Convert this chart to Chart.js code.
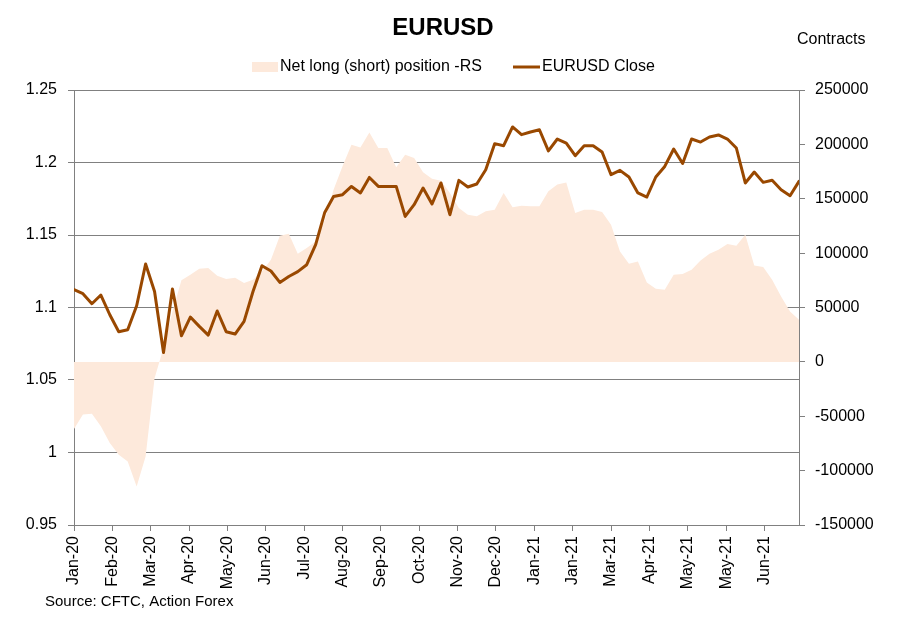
<!DOCTYPE html>
<html>
<head>
<meta charset="utf-8">
<script src="https://cdn.jsdelivr.net/npm/chart.js@4.4.1/dist/chart.umd.min.js"></script>
<style>
  html, body { margin: 0; padding: 0; background: #ffffff; }
  #wrap { width: 901px; height: 619px; }
</style>
</head>
<body>
<div id="wrap"><canvas id="cotChart" width="901" height="619"></canvas></div>
<script>
// weekly CFTC reports, first one on 7 Jan 2020
var daysPerWeek = 7;
var tickStepDays = 30;

var tickLabels = ['Jan-20', 'Feb-20', 'Mar-20', 'Apr-20', 'May-20', 'Jun-20', 'Jul-20', 'Aug-20',
    'Sep-20', 'Oct-20', 'Nov-20', 'Dec-20', 'Jan-21', 'Jan-21', 'Mar-21', 'Apr-21', 'May-21',
    'May-21', 'Jun-21'];

// EURUSD close, left scale
var closeValues = [
    1.1123, 1.1095, 1.1026, 1.1086, 1.0950, 1.0833, 1.0847, 1.1012, 1.1300, 1.1110,
    1.0690, 1.1128, 1.0805, 1.0934, 1.0870, 1.0810, 1.0976, 1.0833, 1.0817, 1.0904,
    1.1110, 1.1288, 1.1252, 1.1173, 1.1214, 1.1247, 1.1295, 1.1433, 1.1653, 1.1766,
    1.1778, 1.1835, 1.1790, 1.1897, 1.1835, 1.1835, 1.1835, 1.1628, 1.1709, 1.1824,
    1.1714, 1.1859, 1.1640, 1.1877, 1.1831, 1.1852, 1.1950, 1.2130, 1.2116, 1.2245,
    1.2192, 1.2210, 1.2226, 1.2080, 1.2162, 1.2134, 1.2047, 1.2116, 1.2116, 1.2072,
    1.1916, 1.1946, 1.1900, 1.1790, 1.1762, 1.1900, 1.1973, 1.2093, 1.1993, 1.2162,
    1.2141, 1.2176, 1.2190, 1.2162, 1.2100, 1.1859, 1.1934, 1.1863, 1.1877, 1.1812,
    1.1771, 1.1870
];

// net long (short) position in contracts, right scale
var netPosition = [
    -61700, -48500, -47600, -59300, -74600, -85300, -91500, -114500, -86900, -15000,
    13000, 46000, 75000, 80200, 85700, 86300, 79300, 76200, 77400, 72500,
    75600, 83200, 94000, 116000, 117900, 99500, 104700, 110800, 130000, 158300,
    179800, 199700, 197200, 211000, 196600, 196600, 178900, 190500, 187500, 174300,
    168400, 166600, 155300, 141500, 135300, 133800, 138400, 140000, 155300, 142100,
    143600, 143000, 143000, 156800, 163000, 165000, 136900, 140000, 140000, 137800,
    126200, 101600, 90300, 92400, 73100, 67300, 66400, 80200, 80800, 84800,
    93300, 99500, 103200, 108400, 106800, 117000, 88700, 87300, 75600, 60200,
    46400, 38800
];

var areaColor = '#FDE9DB';
var lineColor = '#994800';
var axisColor = '#808080';
var fontFamily = "'Liberation Sans', Arial, sans-serif";

function toPoints(values) {
    return values.map(function (v, i) {
        return { x: i * daysPerWeek, y: v };
    });
}

// title, legend, axis caption and source line
var decorations = {
    id: 'decorations',
    afterDraw: function (chart) {
        var c = chart.ctx;
        var sets = chart.data.datasets;
        c.save();
        c.fillStyle = '#000000';
        c.textBaseline = 'middle';

        c.font = 'bold 24px ' + fontFamily;
        c.textAlign = 'center';
        c.fillText('EURUSD', 443, 28);

        c.textAlign = 'left';
        c.font = '16px ' + fontFamily;
        c.fillText('Contracts', 797, 40);

        // legend
        c.fillStyle = sets[0].backgroundColor;
        c.fillRect(252, 62, 26, 10);
        c.fillStyle = '#000000';
        c.fillText(sets[0].label, 280, 67);

        c.strokeStyle = sets[1].borderColor;
        c.lineWidth = 3;
        c.beginPath();
        c.moveTo(513, 67);
        c.lineTo(540, 67);
        c.stroke();
        c.fillText(sets[1].label, 542, 67);

        c.font = '15px ' + fontFamily;
        c.fillText('Source: CFTC, Action Forex', 45, 602);
        c.restore();
    }
};

const ctx = document.getElementById('cotChart').getContext('2d');

new Chart(ctx, {
    type: 'line',
    data: {
        datasets: [{
            label: 'Net long (short) position -RS',
            data: toPoints(netPosition),
            yAxisID: 'y1',
            backgroundColor: areaColor,
            borderWidth: 0,
            pointRadius: 0,
            fill: 'origin',
            tension: 0,
            order: 2
        }, {
            label: 'EURUSD Close',
            data: toPoints(closeValues),
            yAxisID: 'y',
            borderColor: lineColor,
            borderWidth: 3,
            borderJoinStyle: 'round',
            borderCapStyle: 'round',
            pointRadius: 0,
            fill: false,
            tension: 0,
            order: 1
        }]
    },
    options: {
        responsive: false,
        animation: false,
        layout: { padding: { top: 90, left: 0, right: 0, bottom: 0 } },
        plugins: {
            legend: { display: false },
            title: { display: false },
            tooltip: { enabled: false }
        },
        scales: {
            x: {
                type: 'linear',
                min: 0,
                max: (closeValues.length - 1) * daysPerWeek,
                afterBuildTicks: function (s) {
                    s.ticks = tickLabels.map(function (_, k) { return { value: k * tickStepDays }; });
                },
                afterFit: function (s) { s.height = 94; },
                grid: { display: true, drawOnChartArea: false, drawTicks: true, tickLength: 6, color: axisColor },
                border: { display: true, color: axisColor, width: 1 },
                ticks: {
                    autoSkip: false,
                    minRotation: 90,
                    maxRotation: 90,
                    padding: 5,
                    color: '#000000',
                    font: { family: fontFamily, size: 16 },
                    callback: function (value) {
                        return tickLabels[Math.round(value / tickStepDays)];
                    }
                }
            },
            y: {
                position: 'left',
                min: 0.95,
                max: 1.25,
                afterFit: function (s) { s.width = 74; },
                grid: { color: axisColor, tickLength: 6 },
                border: { display: true, color: axisColor, width: 1 },
                ticks: {
                    stepSize: 0.05,
                    padding: 11,
                    color: '#000000',
                    font: { family: fontFamily, size: 16 },
                    callback: function (value) { return String(Number(value.toFixed(2))); }
                }
            },
            y1: {
                position: 'right',
                min: -150000,
                max: 250000,
                afterFit: function (s) { s.width = 102; },
                grid: { drawOnChartArea: false, color: axisColor, tickLength: 6 },
                border: { display: true, color: axisColor, width: 1 },
                ticks: {
                    stepSize: 50000,
                    padding: 10,
                    color: '#000000',
                    font: { family: fontFamily, size: 16 },
                    callback: function (value) { return String(value); }
                }
            }
        }
    },
    plugins: [decorations]
});
</script>
</body>
</html>
